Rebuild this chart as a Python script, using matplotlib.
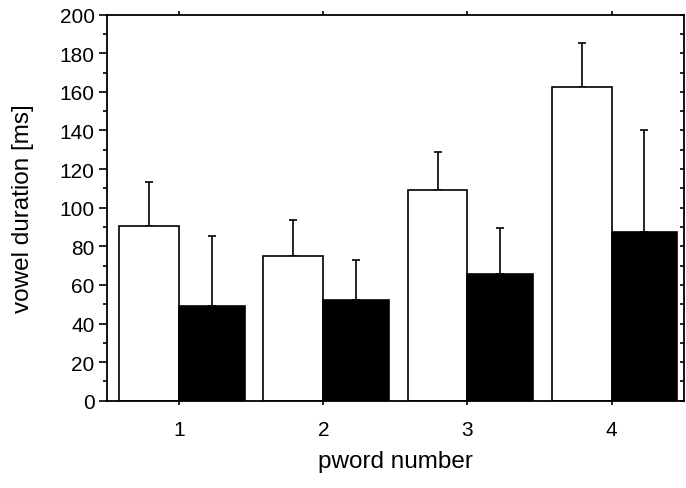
import matplotlib
matplotlib.use("Agg")
import matplotlib.pyplot as plt
from matplotlib.ticker import MultipleLocator
import numpy as np

plt.rcParams['font.family'] = ['Liberation Sans', 'DejaVu Sans']

categories = [1, 2, 3, 4]
white_means = [90.5, 75.0, 109.3, 162.4]
white_err = [23.0, 18.6, 19.8, 22.9]
black_means = [49.2, 52.3, 65.6, 87.3]
black_err = [36.0, 20.4, 23.9, 53.0]
yticks = [0, 20, 40, 60, 80, 100, 120, 140, 160, 180, 200]

fig = plt.figure(figsize=(6.86, 4.89), dpi=100)
ax = fig.add_axes([0.156, 0.1785, 0.8407, 0.7895])

x = np.array(categories, dtype=float)
ww = 0.415
bw = 0.455
lw = 1.2
ax.bar(x, white_means, width=-ww, align='edge', color='white', edgecolor='black',
       linewidth=lw, zorder=2)
ax.bar(x, black_means, width=bw, align='edge', color='black', edgecolor='black',
       linewidth=lw, zorder=2)
ax.errorbar(x - ww / 2, white_means, yerr=[np.zeros(4), white_err], fmt='none',
            ecolor='black', elinewidth=lw, capsize=3, capthick=lw, zorder=1)
ax.errorbar(x + bw / 2, black_means, yerr=[np.zeros(4), black_err], fmt='none',
            ecolor='black', elinewidth=lw, capsize=3, capthick=lw, zorder=1)

ax.set_xlim(0.5, 4.5)
ax.set_ylim(0, 200)
ax.set_xticks(categories)
ax.set_xticklabels([str(c) for c in categories])
ax.set_yticks(yticks)
ax.yaxis.set_minor_locator(MultipleLocator(10))

for s in ax.spines.values():
    s.set_linewidth(1.3)

ax.tick_params(axis='y', which='major', left=True, right=True, direction='out',
               length=6, width=1.2, labelsize=15, pad=3)
ax.tick_params(axis='y', which='minor', left=True, right=True, direction='out',
               length=3, width=1.2)
ax.tick_params(axis='x', which='major', bottom=True, top=True, direction='out',
               length=3, width=1.2, labelsize=15, pad=11)
# right side ticks inward
for t in ax.yaxis.get_major_ticks() + ax.yaxis.get_minor_ticks():
    t.tick2line.set_marker(matplotlib.lines.TICKLEFT)
    t.tick2line.set_markersize(3)

ax.set_xlabel('pword number', fontsize=17.5, labelpad=8)
ax.set_ylabel('vowel duration [ms]', fontsize=17.5, labelpad=18)

fig.savefig('out.png', dpi=100)
